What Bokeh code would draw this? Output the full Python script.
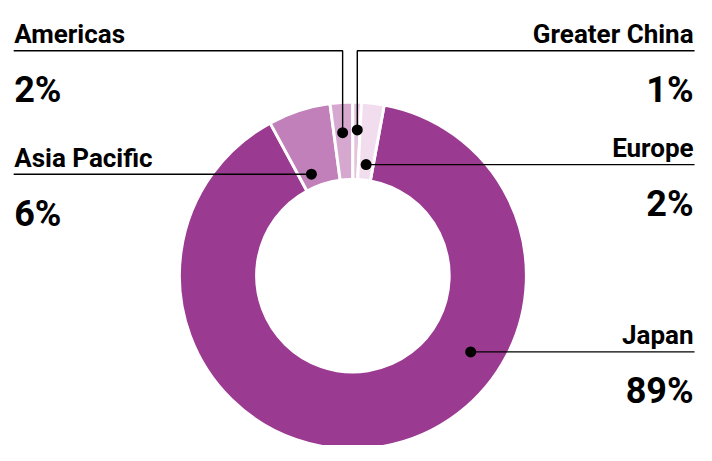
import math
from bokeh.plotting import figure
from bokeh.models import Range1d, ColumnDataSource
from bokeh.core.properties import value
from bokeh.embed import file_html
from bokeh.resources import INLINE

# ---- data ----
regions = ["Japan", "Asia Pacific", "Americas", "Greater China", "Europe"]
shares = [89.2, 5.8, 2.1, 0.8, 2.1]
pct_labels = ["89%", "6%", "2%", "1%", "2%"]
colors = ["#9b3a91", "#c180b9", "#d6a8d0", "#e3c3de", "#f1dded"]

# ---- layout (reference pixel space) ----
CX, CY = 360.5, 285.0
R_OUT, R_IN = 177.5, 98.5
START_CLOCK = 10.4  # degrees clockwise from 12 o'clock where first slice begins
side = ["right", "left", "left", "right", "right"]
dot_angle = [123.25, -22.0, -4.06, 1.7, 6.7]
dot_r = [144.1, 113.3, 148.4, 151.0, 115.8]
line_y = [364, 180, 52, 52, 170]
LEFT_X, RIGHT_X = 13.5, 709.0
FONT = "Roboto"

p = figure(width=696, height=445, output_backend="svg", toolbar_location=None,
           x_range=Range1d(0, 712), y_range=Range1d(461, 0),
           x_axis_type=None, y_axis_type=None, min_border=0)
p.grid.visible = False
p.outline_line_color = None
p.background_fill_color = "white"
p.border_fill_color = "white"

# wedges
total = sum(shares)
starts, ends = [], []
acc = START_CLOCK
for s in shares:
    a0 = acc
    a1 = acc + s / total * 360.0
    acc = a1
    starts.append(math.radians(90 - a1))
    ends.append(math.radians(90 - a0))

src = ColumnDataSource(dict(x=[CX] * len(shares), y=[CY] * len(shares),
                            start=starts, end=ends, color=colors))
p.annular_wedge(x="x", y="y", inner_radius=R_IN, outer_radius=R_OUT,
                start_angle="start", end_angle="end", fill_color="color",
                line_color="white", line_width=3, source=src)

# leaders, dots, labels
xs, ys, dx_, dy_ = [], [], [], []
for i, r in enumerate(regions):
    a = math.radians(dot_angle[i])
    dx = CX + dot_r[i] * math.sin(a)
    dy = CY - dot_r[i] * math.cos(a)
    dx_.append(dx)
    dy_.append(dy)
    edge = LEFT_X if side[i] == "left" else RIGHT_X + 1
    if abs(dy - line_y[i]) > 2:
        xs.append([edge, dx, dx])
        ys.append([line_y[i], line_y[i], dy])
    else:
        xs.append([edge, dx])
        ys.append([line_y[i], line_y[i]])

p.multi_line(xs=xs, ys=ys, line_color="black", line_width=1.4)
p.scatter(x=dx_, y=dy_, size=11, fill_color="black", line_color=None)

for i, r in enumerate(regions):
    tx = LEFT_X + 0.5 if side[i] == "left" else RIGHT_X
    al = "left" if side[i] == "left" else "right"
    p.text(x=[tx], y=[line_y[i] - 17], text=[r], text_align=al,
           text_baseline="alphabetic", text_font=value(FONT),
           text_font_style="bold", text_font_size="26px", text_color="black")
    p.text(x=[tx], y=[line_y[i] + 41], text=[pct_labels[i]], text_align=al,
           text_baseline="alphabetic", text_font=value(FONT),
           text_font_style="bold", text_font_size="36px", text_color="black")

open("out.html", "w").write(file_html(p, INLINE))
